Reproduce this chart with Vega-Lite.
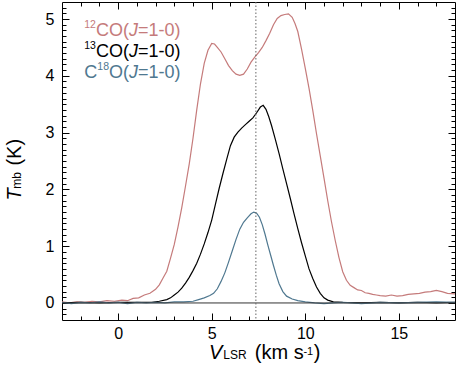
{
  "$schema": "https://vega.github.io/schema/vega-lite/v6.json",
  "width": 393,
  "height": 318,
  "autosize": "none",
  "padding": {"left": 62, "top": 2, "right": 1, "bottom": 50},
  "background": "white",
  "config": {
    "view": {"stroke": "black", "strokeWidth": 1},
    "axis": {"labelFont": "Liberation Sans", "labelColor": "black", "tickColor": "black", "tickWidth": 1, "domain": false, "grid": false, "title": null}
  },
  "resolve": {"axis": {"x": "independent", "y": "independent"}},
  "layer": [
    {
      "data": {"values": [
        {"v": -3, "T": 0.02, "line": "12CO"}, {"v": -2.6, "T": 0.0, "line": "12CO"}, {"v": -2.2, "T": 0.02, "line": "12CO"}, {"v": -1.8, "T": 0.01, "line": "12CO"}, {"v": -1.4, "T": 0.03, "line": "12CO"}, {"v": -1.0, "T": 0.02, "line": "12CO"}, {"v": -0.6, "T": 0.04, "line": "12CO"}, {"v": -0.2, "T": 0.03, "line": "12CO"}, {"v": 0.2, "T": 0.05, "line": "12CO"}, {"v": 0.5, "T": 0.04, "line": "12CO"}, {"v": 0.8, "T": 0.08, "line": "12CO"}, {"v": 1.1, "T": 0.09, "line": "12CO"}, {"v": 1.4, "T": 0.14, "line": "12CO"}, {"v": 1.7, "T": 0.17, "line": "12CO"}, {"v": 2.0, "T": 0.24, "line": "12CO"}, {"v": 2.2, "T": 0.32, "line": "12CO"}, {"v": 2.4, "T": 0.44, "line": "12CO"}, {"v": 2.6, "T": 0.56, "line": "12CO"}, {"v": 2.8, "T": 0.79, "line": "12CO"}, {"v": 3.0, "T": 1.03, "line": "12CO"}, {"v": 3.2, "T": 1.34, "line": "12CO"}, {"v": 3.4, "T": 1.68, "line": "12CO"}, {"v": 3.6, "T": 2.06, "line": "12CO"}, {"v": 3.8, "T": 2.45, "line": "12CO"}, {"v": 4.0, "T": 2.9, "line": "12CO"}, {"v": 4.2, "T": 3.4, "line": "12CO"}, {"v": 4.4, "T": 3.86, "line": "12CO"}, {"v": 4.6, "T": 4.22, "line": "12CO"}, {"v": 4.8, "T": 4.45, "line": "12CO"}, {"v": 5.0, "T": 4.57, "line": "12CO"}, {"v": 5.15, "T": 4.56, "line": "12CO"}, {"v": 5.3, "T": 4.5, "line": "12CO"}, {"v": 5.5, "T": 4.42, "line": "12CO"}, {"v": 5.7, "T": 4.3, "line": "12CO"}, {"v": 5.9, "T": 4.18, "line": "12CO"}, {"v": 6.1, "T": 4.09, "line": "12CO"}, {"v": 6.3, "T": 4.03, "line": "12CO"}, {"v": 6.5, "T": 4.01, "line": "12CO"}, {"v": 6.7, "T": 4.03, "line": "12CO"}, {"v": 6.9, "T": 4.12, "line": "12CO"}, {"v": 7.1, "T": 4.24, "line": "12CO"}, {"v": 7.3, "T": 4.33, "line": "12CO"}, {"v": 7.5, "T": 4.41, "line": "12CO"}, {"v": 7.7, "T": 4.5, "line": "12CO"}, {"v": 7.9, "T": 4.62, "line": "12CO"}, {"v": 8.1, "T": 4.75, "line": "12CO"}, {"v": 8.3, "T": 4.9, "line": "12CO"}, {"v": 8.5, "T": 5.01, "line": "12CO"}, {"v": 8.7, "T": 5.06, "line": "12CO"}, {"v": 8.9, "T": 5.08, "line": "12CO"}, {"v": 9.1, "T": 5.09, "line": "12CO"}, {"v": 9.3, "T": 5.03, "line": "12CO"}, {"v": 9.45, "T": 4.92, "line": "12CO"}, {"v": 9.6, "T": 4.78, "line": "12CO"}, {"v": 9.8, "T": 4.47, "line": "12CO"}, {"v": 10.0, "T": 4.13, "line": "12CO"}, {"v": 10.2, "T": 3.78, "line": "12CO"}, {"v": 10.4, "T": 3.39, "line": "12CO"}, {"v": 10.6, "T": 2.98, "line": "12CO"}, {"v": 10.8, "T": 2.59, "line": "12CO"}, {"v": 11.0, "T": 2.2, "line": "12CO"}, {"v": 11.2, "T": 1.8, "line": "12CO"}, {"v": 11.4, "T": 1.43, "line": "12CO"}, {"v": 11.6, "T": 1.1, "line": "12CO"}, {"v": 11.8, "T": 0.8, "line": "12CO"}, {"v": 12.0, "T": 0.55, "line": "12CO"}, {"v": 12.2, "T": 0.4, "line": "12CO"}, {"v": 12.4, "T": 0.31, "line": "12CO"}, {"v": 12.6, "T": 0.27, "line": "12CO"}, {"v": 12.8, "T": 0.23, "line": "12CO"}, {"v": 13.0, "T": 0.22, "line": "12CO"}, {"v": 13.2, "T": 0.18, "line": "12CO"}, {"v": 13.4, "T": 0.17, "line": "12CO"}, {"v": 13.6, "T": 0.15, "line": "12CO"}, {"v": 13.8, "T": 0.14, "line": "12CO"}, {"v": 14.0, "T": 0.13, "line": "12CO"}, {"v": 14.3, "T": 0.12, "line": "12CO"}, {"v": 14.6, "T": 0.14, "line": "12CO"}, {"v": 14.9, "T": 0.12, "line": "12CO"}, {"v": 15.2, "T": 0.13, "line": "12CO"}, {"v": 15.5, "T": 0.15, "line": "12CO"}, {"v": 15.8, "T": 0.16, "line": "12CO"}, {"v": 16.1, "T": 0.17, "line": "12CO"}, {"v": 16.4, "T": 0.19, "line": "12CO"}, {"v": 16.7, "T": 0.2, "line": "12CO"}, {"v": 17.0, "T": 0.22, "line": "12CO"}, {"v": 17.3, "T": 0.2, "line": "12CO"}, {"v": 17.6, "T": 0.17, "line": "12CO"}, {"v": 18.0, "T": 0.16, "line": "12CO"},
        {"v": -3, "T": 0.0, "line": "13CO"}, {"v": -2, "T": 0.01, "line": "13CO"}, {"v": -1, "T": 0.0, "line": "13CO"}, {"v": 0, "T": 0.01, "line": "13CO"}, {"v": 1, "T": 0.01, "line": "13CO"}, {"v": 1.8, "T": 0.01, "line": "13CO"}, {"v": 2.2, "T": 0.03, "line": "13CO"}, {"v": 2.6, "T": 0.06, "line": "13CO"}, {"v": 2.8, "T": 0.09, "line": "13CO"}, {"v": 3.0, "T": 0.14, "line": "13CO"}, {"v": 3.2, "T": 0.19, "line": "13CO"}, {"v": 3.4, "T": 0.26, "line": "13CO"}, {"v": 3.6, "T": 0.35, "line": "13CO"}, {"v": 3.8, "T": 0.45, "line": "13CO"}, {"v": 4.0, "T": 0.57, "line": "13CO"}, {"v": 4.2, "T": 0.7, "line": "13CO"}, {"v": 4.4, "T": 0.86, "line": "13CO"}, {"v": 4.6, "T": 1.04, "line": "13CO"}, {"v": 4.8, "T": 1.24, "line": "13CO"}, {"v": 5.0, "T": 1.46, "line": "13CO"}, {"v": 5.2, "T": 1.74, "line": "13CO"}, {"v": 5.4, "T": 2.02, "line": "13CO"}, {"v": 5.6, "T": 2.28, "line": "13CO"}, {"v": 5.8, "T": 2.53, "line": "13CO"}, {"v": 6.0, "T": 2.77, "line": "13CO"}, {"v": 6.2, "T": 2.92, "line": "13CO"}, {"v": 6.4, "T": 3.01, "line": "13CO"}, {"v": 6.6, "T": 3.08, "line": "13CO"}, {"v": 6.8, "T": 3.14, "line": "13CO"}, {"v": 7.0, "T": 3.2, "line": "13CO"}, {"v": 7.2, "T": 3.26, "line": "13CO"}, {"v": 7.4, "T": 3.35, "line": "13CO"}, {"v": 7.6, "T": 3.45, "line": "13CO"}, {"v": 7.75, "T": 3.48, "line": "13CO"}, {"v": 7.9, "T": 3.41, "line": "13CO"}, {"v": 8.05, "T": 3.28, "line": "13CO"}, {"v": 8.2, "T": 3.12, "line": "13CO"}, {"v": 8.4, "T": 2.88, "line": "13CO"}, {"v": 8.6, "T": 2.63, "line": "13CO"}, {"v": 8.8, "T": 2.36, "line": "13CO"}, {"v": 9.0, "T": 2.1, "line": "13CO"}, {"v": 9.2, "T": 1.84, "line": "13CO"}, {"v": 9.4, "T": 1.57, "line": "13CO"}, {"v": 9.6, "T": 1.31, "line": "13CO"}, {"v": 9.8, "T": 1.06, "line": "13CO"}, {"v": 10.0, "T": 0.83, "line": "13CO"}, {"v": 10.2, "T": 0.6, "line": "13CO"}, {"v": 10.4, "T": 0.43, "line": "13CO"}, {"v": 10.6, "T": 0.28, "line": "13CO"}, {"v": 10.8, "T": 0.17, "line": "13CO"}, {"v": 11.0, "T": 0.09, "line": "13CO"}, {"v": 11.2, "T": 0.05, "line": "13CO"}, {"v": 11.5, "T": 0.02, "line": "13CO"}, {"v": 12, "T": 0.01, "line": "13CO"}, {"v": 13, "T": 0.0, "line": "13CO"}, {"v": 14, "T": 0.01, "line": "13CO"}, {"v": 15, "T": 0.0, "line": "13CO"}, {"v": 16, "T": 0.01, "line": "13CO"}, {"v": 17, "T": 0.0, "line": "13CO"}, {"v": 18, "T": 0.01, "line": "13CO"},
        {"v": -3, "T": 0.01, "line": "C18O"}, {"v": -2.5, "T": -0.01, "line": "C18O"}, {"v": -2, "T": 0.01, "line": "C18O"}, {"v": -1.5, "T": 0.0, "line": "C18O"}, {"v": -1, "T": 0.02, "line": "C18O"}, {"v": -0.5, "T": 0.0, "line": "C18O"}, {"v": 0, "T": 0.01, "line": "C18O"}, {"v": 0.5, "T": -0.01, "line": "C18O"}, {"v": 1, "T": 0.01, "line": "C18O"}, {"v": 1.5, "T": 0.0, "line": "C18O"}, {"v": 2, "T": 0.01, "line": "C18O"}, {"v": 2.5, "T": 0.0, "line": "C18O"}, {"v": 3, "T": 0.02, "line": "C18O"}, {"v": 3.5, "T": 0.02, "line": "C18O"}, {"v": 4, "T": 0.03, "line": "C18O"}, {"v": 4.3, "T": 0.06, "line": "C18O"}, {"v": 4.6, "T": 0.09, "line": "C18O"}, {"v": 4.9, "T": 0.13, "line": "C18O"}, {"v": 5.1, "T": 0.17, "line": "C18O"}, {"v": 5.3, "T": 0.25, "line": "C18O"}, {"v": 5.5, "T": 0.38, "line": "C18O"}, {"v": 5.7, "T": 0.53, "line": "C18O"}, {"v": 5.9, "T": 0.72, "line": "C18O"}, {"v": 6.1, "T": 0.92, "line": "C18O"}, {"v": 6.3, "T": 1.12, "line": "C18O"}, {"v": 6.5, "T": 1.3, "line": "C18O"}, {"v": 6.7, "T": 1.42, "line": "C18O"}, {"v": 6.9, "T": 1.5, "line": "C18O"}, {"v": 7.1, "T": 1.57, "line": "C18O"}, {"v": 7.25, "T": 1.6, "line": "C18O"}, {"v": 7.4, "T": 1.58, "line": "C18O"}, {"v": 7.55, "T": 1.51, "line": "C18O"}, {"v": 7.7, "T": 1.38, "line": "C18O"}, {"v": 7.85, "T": 1.21, "line": "C18O"}, {"v": 8.0, "T": 1.02, "line": "C18O"}, {"v": 8.15, "T": 0.84, "line": "C18O"}, {"v": 8.3, "T": 0.66, "line": "C18O"}, {"v": 8.45, "T": 0.49, "line": "C18O"}, {"v": 8.6, "T": 0.34, "line": "C18O"}, {"v": 8.8, "T": 0.2, "line": "C18O"}, {"v": 9.0, "T": 0.12, "line": "C18O"}, {"v": 9.3, "T": 0.07, "line": "C18O"}, {"v": 9.6, "T": 0.04, "line": "C18O"}, {"v": 10, "T": 0.02, "line": "C18O"}, {"v": 10.5, "T": 0.0, "line": "C18O"}, {"v": 11, "T": -0.01, "line": "C18O"}, {"v": 11.5, "T": 0.0, "line": "C18O"}, {"v": 12, "T": 0.01, "line": "C18O"}, {"v": 12.5, "T": 0.0, "line": "C18O"}, {"v": 13, "T": -0.01, "line": "C18O"}, {"v": 14, "T": 0.01, "line": "C18O"}, {"v": 15, "T": 0.0, "line": "C18O"}, {"v": 16, "T": 0.01, "line": "C18O"}, {"v": 17, "T": 0.02, "line": "C18O"}, {"v": 18, "T": 0.01, "line": "C18O"}
      ]},
      "mark": {"type": "line", "strokeWidth": 1.2, "clip": true},
      "encoding": {
        "x": {"field": "v", "type": "quantitative", "scale": {"domain": [-3, 18], "nice": false, "zero": false},
              "axis": {"orient": "bottom", "values": [0, 5, 10, 15], "tickSize": -7, "labelFontSize": 16, "labelPadding": 12, "labelFlush": false}},
        "y": {"field": "T", "type": "quantitative", "scale": {"domain": [-0.3, 5.3], "nice": false, "zero": false},
              "axis": {"orient": "left", "values": [0, 1, 2, 3, 4, 5], "tickSize": -7, "labelFontSize": 16, "labelPadding": 15}},
        "color": {"field": "line", "type": "nominal", "scale": {"domain": ["12CO", "13CO", "C18O"], "range": ["#c57b7b", "#000000", "#4f7890"]}, "legend": null}
      }
    },
    {
      "data": {"values": [{}]},
      "mark": {"type": "rule", "color": "#333333", "strokeWidth": 1},
      "encoding": {
        "y": {"datum": 0, "type": "quantitative", "axis": {"orient": "left", "values": [-0.2, -0.1, 0, 0.1, 0.2, 0.3, 0.4, 0.5, 0.6, 0.7, 0.8, 0.9, 1, 1.1, 1.2, 1.3, 1.4, 1.5, 1.6, 1.7, 1.8, 1.9, 2, 2.1, 2.2, 2.3, 2.4, 2.5, 2.6, 2.7, 2.8, 2.9, 3, 3.1, 3.2, 3.3, 3.4, 3.5, 3.6, 3.7, 3.8, 3.9, 4, 4.1, 4.2, 4.3, 4.4, 4.5, 4.6, 4.7, 4.8, 4.9, 5, 5.1, 5.2], "tickSize": -4, "labels": false}}
      }
    },
    {
      "data": {"values": [{}]},
      "mark": {"type": "rule", "color": "#666666", "strokeWidth": 1, "strokeDash": [1.5, 2]},
      "encoding": {
        "x": {"datum": 7.36, "type": "quantitative", "axis": {"orient": "bottom", "values": [-2, -1, 0, 1, 2, 3, 4, 5, 6, 7, 8, 9, 10, 11, 12, 13, 14, 15, 16, 17], "tickSize": -4, "labels": false}}
      }
    },
    {
      "data": {"values": [{}]},
      "mark": {"type": "text", "text": "12", "font": "Liberation Sans", "fontSize": 10.5, "align": "left", "baseline": "alphabetic", "color": "#c57b7b"},
      "encoding": {
        "x": {"datum": -1.81, "type": "quantitative", "axis": {"orient": "top", "values": [0, 5, 10, 15], "tickSize": -7, "labels": false}},
        "y": {"datum": 4.837, "type": "quantitative", "axis": {"orient": "right", "values": [0, 1, 2, 3, 4, 5], "tickSize": -7, "labels": false}}
      }
    },
    {
      "data": {"values": [{}]},
      "mark": {"type": "text", "text": "CO(", "font": "Liberation Sans", "fontSize": 18, "align": "left", "baseline": "alphabetic", "color": "#c57b7b"},
      "encoding": {
        "x": {"datum": -1.183, "type": "quantitative", "axis": {"orient": "top", "values": [-2, -1, 0, 1, 2, 3, 4, 5, 6, 7, 8, 9, 10, 11, 12, 13, 14, 15, 16, 17], "tickSize": -4, "labels": false}},
        "y": {"datum": 4.696, "type": "quantitative", "axis": {"orient": "right", "values": [-0.2, -0.1, 0, 0.1, 0.2, 0.3, 0.4, 0.5, 0.6, 0.7, 0.8, 0.9, 1, 1.1, 1.2, 1.3, 1.4, 1.5, 1.6, 1.7, 1.8, 1.9, 2, 2.1, 2.2, 2.3, 2.4, 2.5, 2.6, 2.7, 2.8, 2.9, 3, 3.1, 3.2, 3.3, 3.4, 3.5, 3.6, 3.7, 3.8, 3.9, 4, 4.1, 4.2, 4.3, 4.4, 4.5, 4.6, 4.7, 4.8, 4.9, 5, 5.1, 5.2], "tickSize": -4, "labels": false}}
      }
    },
    {
      "data": {"values": [{}]},
      "mark": {"type": "text", "text": "J", "font": "Liberation Sans", "fontSize": 18, "fontStyle": "italic", "align": "left", "baseline": "alphabetic", "color": "#c57b7b"},
      "encoding": {"x": {"datum": 0.58, "type": "quantitative", "axis": null}, "y": {"datum": 4.696, "type": "quantitative", "axis": null}}
    },
    {
      "data": {"values": [{}]},
      "mark": {"type": "text", "text": "=1-0)", "font": "Liberation Sans", "fontSize": 18, "align": "left", "baseline": "alphabetic", "color": "#c57b7b"},
      "encoding": {"x": {"datum": 1.061, "type": "quantitative", "axis": null}, "y": {"datum": 4.696, "type": "quantitative", "axis": null}}
    },
    {
      "data": {"values": [{}]},
      "mark": {"type": "text", "text": "13", "font": "Liberation Sans", "fontSize": 10.5, "align": "left", "baseline": "alphabetic", "color": "#000000"},
      "encoding": {"x": {"datum": -1.81, "type": "quantitative", "axis": null}, "y": {"datum": 4.467, "type": "quantitative", "axis": null}}
    },
    {
      "data": {"values": [{}]},
      "mark": {"type": "text", "text": "CO(", "font": "Liberation Sans", "fontSize": 18, "align": "left", "baseline": "alphabetic", "color": "#000000"},
      "encoding": {"x": {"datum": -1.183, "type": "quantitative", "axis": null}, "y": {"datum": 4.326, "type": "quantitative", "axis": null}}
    },
    {
      "data": {"values": [{}]},
      "mark": {"type": "text", "text": "J", "font": "Liberation Sans", "fontSize": 18, "fontStyle": "italic", "align": "left", "baseline": "alphabetic", "color": "#000000"},
      "encoding": {"x": {"datum": 0.58, "type": "quantitative", "axis": null}, "y": {"datum": 4.326, "type": "quantitative", "axis": null}}
    },
    {
      "data": {"values": [{}]},
      "mark": {"type": "text", "text": "=1-0)", "font": "Liberation Sans", "fontSize": 18, "align": "left", "baseline": "alphabetic", "color": "#000000"},
      "encoding": {"x": {"datum": 1.061, "type": "quantitative", "axis": null}, "y": {"datum": 4.326, "type": "quantitative", "axis": null}}
    },
    {
      "data": {"values": [{}]},
      "mark": {"type": "text", "text": "C", "font": "Liberation Sans", "fontSize": 18, "align": "left", "baseline": "alphabetic", "color": "#4f7890"},
      "encoding": {"x": {"datum": -1.81, "type": "quantitative", "axis": null}, "y": {"datum": 3.956, "type": "quantitative", "axis": null}}
    },
    {
      "data": {"values": [{}]},
      "mark": {"type": "text", "text": "18", "font": "Liberation Sans", "fontSize": 10.5, "align": "left", "baseline": "alphabetic", "color": "#4f7890"},
      "encoding": {"x": {"datum": -1.114, "type": "quantitative", "axis": null}, "y": {"datum": 4.097, "type": "quantitative", "axis": null}}
    },
    {
      "data": {"values": [{}]},
      "mark": {"type": "text", "text": "O(", "font": "Liberation Sans", "fontSize": 18, "align": "left", "baseline": "alphabetic", "color": "#4f7890"},
      "encoding": {"x": {"datum": -0.489, "type": "quantitative", "axis": null}, "y": {"datum": 3.956, "type": "quantitative", "axis": null}}
    },
    {
      "data": {"values": [{}]},
      "mark": {"type": "text", "text": "J", "font": "Liberation Sans", "fontSize": 18, "fontStyle": "italic", "align": "left", "baseline": "alphabetic", "color": "#4f7890"},
      "encoding": {"x": {"datum": 0.58, "type": "quantitative", "axis": null}, "y": {"datum": 3.956, "type": "quantitative", "axis": null}}
    },
    {
      "data": {"values": [{}]},
      "mark": {"type": "text", "text": "=1-0)", "font": "Liberation Sans", "fontSize": 18, "align": "left", "baseline": "alphabetic", "color": "#4f7890"},
      "encoding": {"x": {"datum": 1.061, "type": "quantitative", "axis": null}, "y": {"datum": 3.956, "type": "quantitative", "axis": null}}
    },
    {
      "data": {"values": [{}]},
      "mark": {"type": "text", "text": "V", "font": "Liberation Sans", "fontSize": 20, "fontStyle": "italic", "align": "left", "baseline": "alphabetic", "color": "#000000"},
      "encoding": {"x": {"datum": 4.85, "type": "quantitative", "axis": null}, "y": {"datum": -0.978, "type": "quantitative", "axis": null}}
    },
    {
      "data": {"values": [{}]},
      "mark": {"type": "text", "text": "LSR", "font": "Liberation Sans", "fontSize": 12, "align": "left", "baseline": "alphabetic", "color": "#000000"},
      "encoding": {"x": {"datum": 5.62, "type": "quantitative", "axis": null}, "y": {"datum": -0.978, "type": "quantitative", "axis": null}}
    },
    {
      "data": {"values": [{}]},
      "mark": {"type": "text", "text": "(km s", "font": "Liberation Sans", "fontSize": 20, "align": "left", "baseline": "alphabetic", "color": "#000000"},
      "encoding": {"x": {"datum": 7.3, "type": "quantitative", "axis": null}, "y": {"datum": -0.978, "type": "quantitative", "axis": null}}
    },
    {
      "data": {"values": [{}]},
      "mark": {"type": "text", "text": "-1", "font": "Liberation Sans", "fontSize": 11, "align": "left", "baseline": "alphabetic", "color": "#000000"},
      "encoding": {"x": {"datum": 9.9, "type": "quantitative", "axis": null}, "y": {"datum": -0.925, "type": "quantitative", "axis": null}}
    },
    {
      "data": {"values": [{}]},
      "mark": {"type": "text", "text": ")", "font": "Liberation Sans", "fontSize": 20, "align": "left", "baseline": "alphabetic", "color": "#000000"},
      "encoding": {"x": {"datum": 10.45, "type": "quantitative", "axis": null}, "y": {"datum": -0.978, "type": "quantitative", "axis": null}}
    },
    {
      "data": {"values": [{}]},
      "mark": {"type": "text", "text": "T", "font": "Liberation Sans", "fontSize": 20, "fontStyle": "italic", "angle": 270, "align": "left", "baseline": "alphabetic", "color": "#000000"},
      "encoding": {"x": {"datum": -5.207, "type": "quantitative", "axis": null}, "y": {"datum": 1.804, "type": "quantitative", "axis": null}}
    },
    {
      "data": {"values": [{}]},
      "mark": {"type": "text", "text": "mb", "font": "Liberation Sans", "fontSize": 12, "angle": 270, "align": "left", "baseline": "alphabetic", "color": "#000000"},
      "encoding": {"x": {"datum": -5.207, "type": "quantitative", "axis": null}, "y": {"datum": 2.01, "type": "quantitative", "axis": null}}
    },
    {
      "data": {"values": [{}]},
      "mark": {"type": "text", "text": "(K)", "font": "Liberation Sans", "fontSize": 20, "angle": 270, "align": "left", "baseline": "alphabetic", "color": "#000000"},
      "encoding": {"x": {"datum": -5.207, "type": "quantitative", "axis": null}, "y": {"datum": 2.42, "type": "quantitative", "axis": null}}
    }
  ]
}
